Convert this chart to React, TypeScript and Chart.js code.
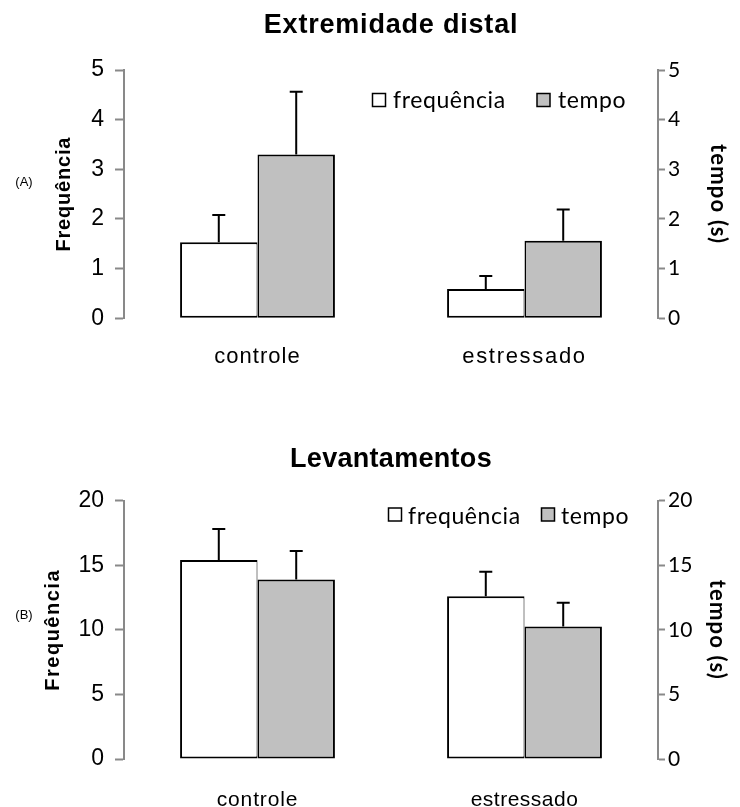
import { useEffect, useRef } from "react";
import { Chart, registerables } from "chart.js";

Chart.register(...registerables);

// ---- data ----
const categories = ["controle", "estressado"];
const seriesNames = ["frequência", "tempo"];

const distalFrequency = [1.53, 0.59];
const distalFrequencyErr = [0.55, 0.26];
const distalTime = [3.3, 1.56];
const distalTimeErr = [1.26, 0.63];
const distalMax = 5;
const distalStep = 1;

const liftFrequency = [15.4, 12.6];
const liftFrequencyErr = [2.4, 1.9];
const liftTime = [13.9, 10.25];
const liftTimeErr = [2.2, 1.85];
const liftMax = 20;
const liftStep = 5;

// ---- styles ----
const ARIAL = '"Liberation Sans", Arial, sans-serif';
const CALIBRI = 'Lato, "Open Sans", sans-serif';
const AXIS = "#898989";
const GREY = "#c0c0c0";
const AREA_LEFT = 124;
const AREA_RIGHT = 658;
const WIDTH = 740;

type Panel = {
  title: string;
  tag: string;
  height: number;
  padTop: number;
  padBottom: number;
  freq: number[];
  freqErr: number[];
  time: number[];
  timeErr: number[];
  max: number;
  step: number;
  titleY: number;
  titleSpacing: number;
  leftTitleX: number;
  leftTitleSpacing: number;
  rightTitleX: number;
  tagY: number;
  legend: { box1: number; text1: number; box2: number; text2: number; boxY: number; textY: number };
  xLabelY: number;
  xLabelSize: number;
  xLabelSpacing: number[];
};

const panels: Panel[] = [
  {
    title: "Extremidade distal",
    tag: "(A)",
    height: 415,
    padTop: 70,
    padBottom: 96.7,
    freq: distalFrequency,
    freqErr: distalFrequencyErr,
    time: distalTime,
    timeErr: distalTimeErr,
    max: distalMax,
    step: distalStep,
    titleY: 33,
    titleSpacing: 0.8,
    leftTitleX: 64.5,
    leftTitleSpacing: 0.8,
    rightTitleX: 718,
    tagY: 182.5,
    legend: { box1: 372.5, text1: 393, box2: 537, text2: 558, boxY: 93.5, textY: 107.5 },
    xLabelY: 363,
    xLabelSize: 22,
    xLabelSpacing: [1, 1.7],
  },
  {
    title: "Levantamentos",
    tag: "(B)",
    height: 392,
    padTop: 85.7,
    padBottom: 48,
    freq: liftFrequency,
    freqErr: liftFrequencyErr,
    time: liftTime,
    timeErr: liftTimeErr,
    max: liftMax,
    step: liftStep,
    titleY: 51.7,
    titleSpacing: 0.3,
    leftTitleX: 53.5,
    leftTitleSpacing: 1.5,
    rightTitleX: 717.5,
    tagY: 200,
    legend: { box1: 388.5, text1: 408, box2: 541.5, text2: 561, boxY: 93, textY: 108.5 },
    xLabelY: 391,
    xLabelSize: 21,
    xLabelSpacing: [0.85, 0.5],
  },
];

function BarPanel({ p }: { p: Panel }) {
  const ref = useRef<HTMLCanvasElement>(null);

  useEffect(() => {
    const canvas = ref.current;
    if (!canvas) return;

    const decor = {
      id: "decor",
      afterDatasetsDraw(chart: any) {
        const ctx = chart.ctx;
        ctx.save();
        ctx.strokeStyle = "#000";
        ctx.lineWidth = 2;
        chart.data.datasets.forEach((ds: any, i: number) => {
          const meta = chart.getDatasetMeta(i);
          const scale = chart.scales[ds.yAxisID];
          meta.data.forEach((bar: any, j: number) => {
            const v = ds.data[j];
            const e = ds.errors[j];
            const yTop = scale.getPixelForValue(v + e);
            const x = bar.x;
            ctx.beginPath();
            ctx.moveTo(x, bar.y);
            ctx.lineTo(x, yTop);
            ctx.moveTo(x - 6.5, yTop);
            ctx.lineTo(x + 6.5, yTop);
            ctx.stroke();
          });
        });
        ctx.restore();
      },
      afterDraw(chart: any) {
        const ctx = chart.ctx;
        const area = chart.chartArea;
        const midY = (area.top + area.bottom) / 2;
        ctx.save();
        ctx.fillStyle = "#000";

        // chart title
        ctx.font = `bold 27px ${ARIAL}`;
        ctx.letterSpacing = `${p.titleSpacing}px`;
        ctx.textAlign = "center";
        ctx.textBaseline = "alphabetic";
        ctx.fillText(p.title, (area.left + area.right) / 2, p.titleY);

        // category labels
        const xs = chart.scales.x;
        ctx.font = `${p.xLabelSize}px ${ARIAL}`;
        categories.forEach((c, i) => {
          ctx.letterSpacing = `${p.xLabelSpacing[i]}px`;
          ctx.fillText(c, xs.getPixelForValue(i), p.xLabelY);
        });

        // panel tag
        ctx.letterSpacing = "0px";
        ctx.font = `13px ${ARIAL}`;
        ctx.textBaseline = "middle";
        ctx.fillText(p.tag, 24, p.tagY);

        // left axis title
        ctx.save();
        ctx.translate(p.leftTitleX, midY);
        ctx.rotate(-Math.PI / 2);
        ctx.font = `bold 20px ${ARIAL}`;
        ctx.letterSpacing = `${p.leftTitleSpacing}px`;
        ctx.fillText("Frequência", 0, 0);
        ctx.restore();

        // right axis title
        ctx.save();
        ctx.translate(p.rightTitleX, midY);
        ctx.rotate(Math.PI / 2);
        ctx.font = `bold 22px ${CALIBRI}`;
        ctx.letterSpacing = "1.2px";
        ctx.fillText("tempo (s)", 0, 0);
        ctx.restore();

        // legend
        const L = p.legend;
        ctx.lineWidth = 1.5;
        ctx.strokeStyle = "#000";
        ctx.fillStyle = "#fff";
        ctx.fillRect(L.box1, L.boxY, 13, 13);
        ctx.strokeRect(L.box1, L.boxY, 13, 13);
        ctx.fillStyle = GREY;
        ctx.fillRect(L.box2, L.boxY, 13, 13);
        ctx.strokeRect(L.box2, L.boxY, 13, 13);
        ctx.fillStyle = "#000";
        ctx.font = `23px ${CALIBRI}`;
        ctx.letterSpacing = "0.6px";
        ctx.textAlign = "left";
        ctx.textBaseline = "alphabetic";
        ctx.fillText(seriesNames[0], L.text1, L.textY);
        ctx.fillText(seriesNames[1], L.text2, L.textY);
        ctx.restore();
      },
    };

    const axisCommon = (position: "left" | "right") => ({
      position,
      min: 0,
      max: p.max,
      ticks: {
        stepSize: p.step,
        color: "#000",
        padding: position === "left" ? 11 : 3,
        font:
          position === "left"
            ? { family: ARIAL, size: 23 }
            : { family: CALIBRI, size: 21 },
      },
      grid: {
        drawOnChartArea: false,
        drawTicks: true,
        tickLength: position === "left" ? 9 : 7,
        tickWidth: 2,
        tickColor: AXIS,
      },
      border: { color: AXIS, width: 2 },
      afterFit(scale: any) {
        scale.width = position === "left" ? AREA_LEFT : WIDTH - AREA_RIGHT;
      },
    });

    const chart = new Chart(canvas, {
      type: "bar",
      data: {
        labels: categories,
        datasets: [
          {
            label: seriesNames[0],
            data: p.freq,
            errors: p.freqErr,
            yAxisID: "y",
            backgroundColor: "#ffffff",
            borderColor: "#000000",
            borderWidth: { top: 2, left: 2, bottom: 2, right: 1 },
            borderSkipped: false,
            categoryPercentage: 0.58,
            barPercentage: 1,
          } as any,
          {
            label: seriesNames[1],
            data: p.time,
            errors: p.timeErr,
            yAxisID: "y1",
            backgroundColor: GREY,
            borderColor: "#000000",
            borderWidth: { top: 2, left: 1.5, bottom: 2, right: 2 },
            borderSkipped: false,
            categoryPercentage: 0.58,
            barPercentage: 1,
          } as any,
        ],
      },
      options: {
        responsive: false,
        animation: false,
        devicePixelRatio: 1,
        layout: { padding: { top: p.padTop, bottom: p.padBottom, left: 0, right: 0 } },
        plugins: {
          legend: { display: false },
          title: { display: false },
          tooltip: { enabled: false },
        },
        scales: {
          x: { display: false, offset: true },
          y: axisCommon("left") as any,
          y1: axisCommon("right") as any,
        },
      },
      plugins: [decor],
    });

    return () => chart.destroy();
  }, [p]);

  return (
    <canvas
      ref={ref}
      width={WIDTH}
      height={p.height}
      style={{ display: "block", width: WIDTH, height: p.height }}
    />
  );
}

export default function App() {
  return (
    <div
      style={{
        position: "absolute",
        left: 0,
        top: 0,
        width: WIDTH,
        height: 807,
        background: "#fff",
      }}
    >
      {panels.map((p) => (
        <BarPanel key={p.title} p={p} />
      ))}
    </div>
  );
}
